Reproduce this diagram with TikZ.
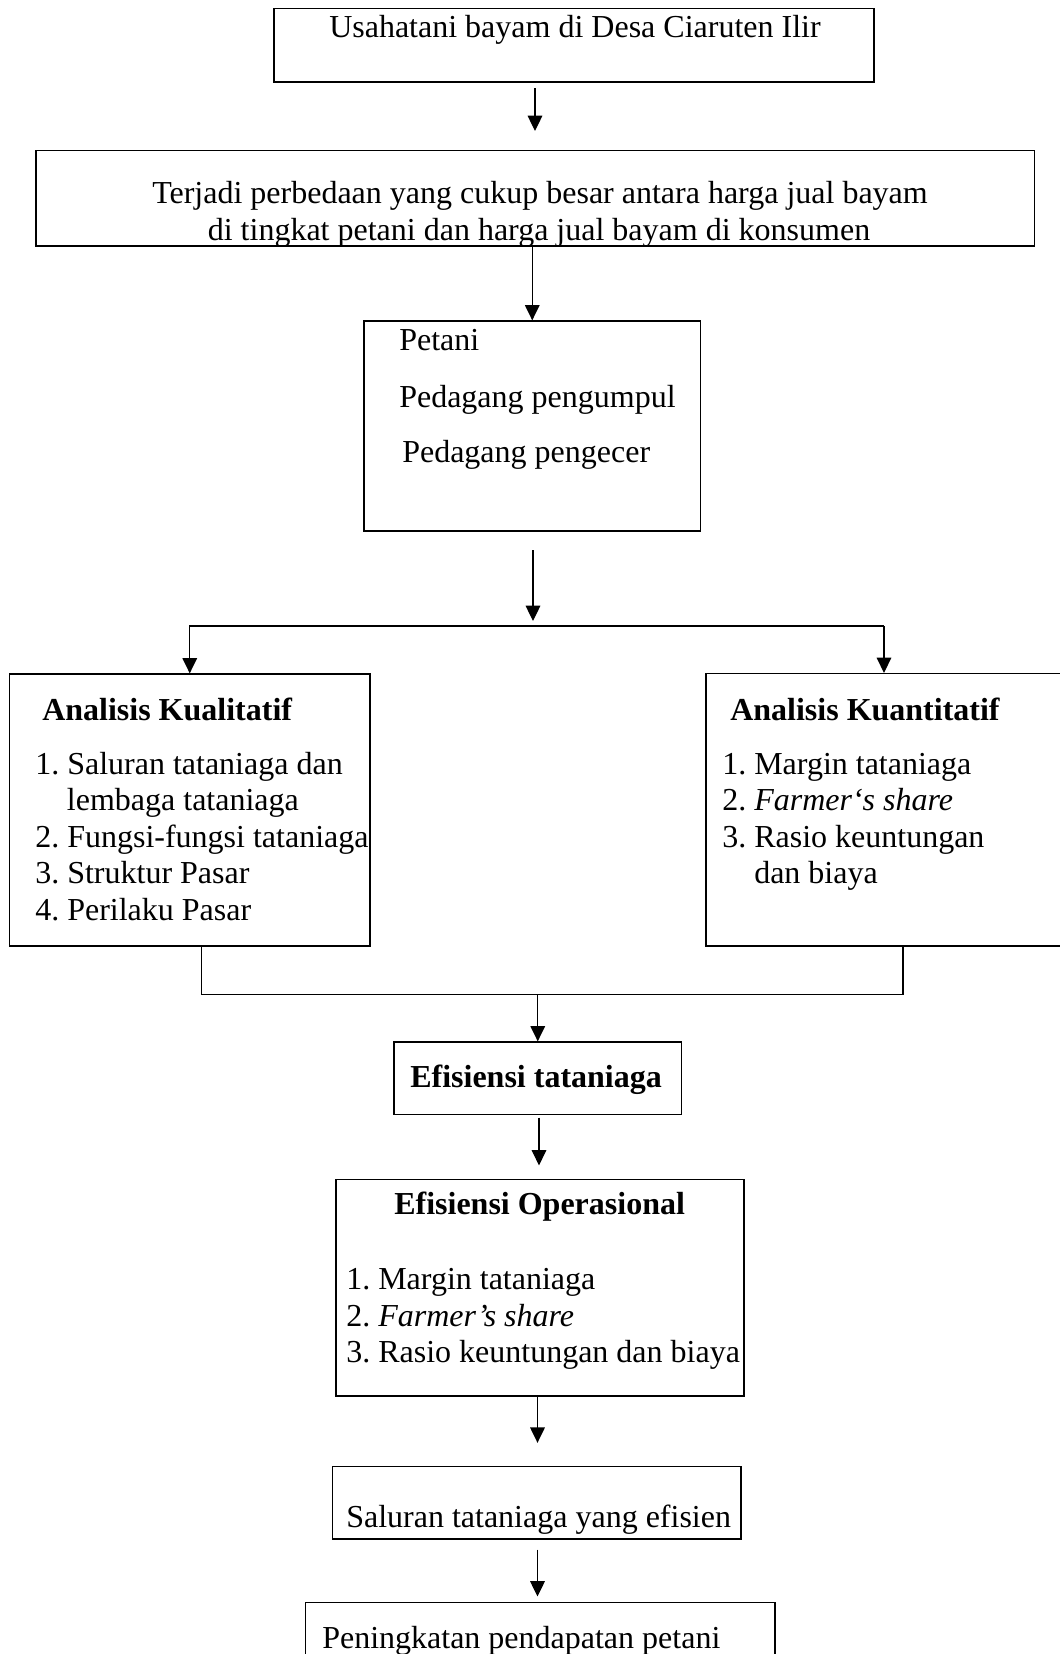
\documentclass[tikz,border=0pt]{standalone}
\usepackage{fontspec}
\setmainfont{Liberation Serif}
\usetikzlibrary{arrows.meta,fit}
\frenchspacing
\begin{document}
\begin{tikzpicture}[x=0.75pt,y=-0.75pt,
  every node/.style={font=\fontsize{24}{27.6}\selectfont},
  box/.style={draw, line width=1pt, inner sep=0pt},
  txt/.style={anchor=base west, inner sep=0pt},
  ctxt/.style={anchor=base, inner sep=0pt},
  arr/.style={-{Triangle[length=11.5pt,width=11pt]}, line width=0.9pt},
  ln/.style={line width=0.9pt}]
\useasboundingbox (0,0) rectangle (1060,1654);
\clip (0,0) rectangle (1060,1654);
\fill[white] (0,0) rectangle (1060,1654);

% boxes
\node[box, fit={(274,8.6) (874,82)}] (b1) {};
\node[box, fit={(36,150.7) (1034.5,246)}] (b2) {};
\node[box, fit={(364,321) (700.5,531)}] (b3) {};
\node[box, fit={(9.5,674) (370,946)}] (kual) {};
\node[box, fit={(706,673.6) (1075,946)}] (kuan) {};
\node[box, fit={(394,1042) (681.5,1114.5)}] (eft) {};
\node[box, fit={(336,1179.5) (744,1396)}] (eo) {};
\node[box, fit={(332.6,1466.8) (741,1539)}] (sal) {};
\node[box, fit={(305.6,1602.5) (775,1680)}] (pen) {};

% texts
\node[txt] (t1) at (329,37.5) {Usahatani bayam di Desa Ciaruten Ilir};
\node[ctxt] (t2a) at (540,203.6) {Terjadi perbedaan yang cukup besar antara harga jual bayam};
\node[ctxt] (t2b) at (539,240) {di tingkat petani dan harga jual bayam di konsumen};
\node[txt] (t3a) at (399,350.5) {Petani};
\node[txt] (t3b) at (399,407) {Pedagang pengumpul};
\node[txt] (t3c) at (402,462.5) {Pedagang pengecer};

\node[txt,font=\fontsize{24}{27.6}\selectfont\bfseries] (kualT) at (42,720) {Analisis Kualitatif};
\node[txt] (kl1) at (35,774) {1. Saluran tataniaga dan};
\node[txt] (kl1b) at (66.7,810.5) {lembaga tataniaga};
\node[txt] (kl2) at (35,847) {2. Fungsi-fungsi tataniaga};
\node[txt] (kl3) at (35,883.5) {3. Struktur Pasar};
\node[txt] (kl4) at (35,920) {4. Perilaku Pasar};

\node[txt,font=\fontsize{24}{27.6}\selectfont\bfseries] (kuanT) at (730,720) {Analisis Kuantitatif};
\node[txt] (kn1) at (722,774) {1. Margin tataniaga};
\node[txt] (kn2) at (722,810.5) {2. \textit{Farmer‘s share}};
\node[txt] (kn3) at (722,847) {3. Rasio keuntungan};
\node[txt] (kn3b) at (754,883.5) {dan biaya};

\node[txt,font=\fontsize{24}{27.6}\selectfont\bfseries] (eftT) at (410,1087) {Efisiensi tataniaga};

\node[txt,font=\fontsize{24}{27.6}\selectfont\bfseries] (eoT) at (394,1214.8) {Efisiensi Operasional};
\node[txt] (eo1) at (346,1289) {1. Margin tataniaga};
\node[txt] (eo2) at (346,1326) {2. \textit{Farmer’s share}};
\node[txt] (eo3) at (346,1362.5) {3. Rasio keuntungan dan biaya};

\node[txt] (salT) at (346,1527.6) {Saluran tataniaga yang efisien};
\node[txt] (penT) at (322,1648) {Peningkatan pendapatan petani};

% connectors
\coordinate (a1s) at (535,88);
\coordinate (a1e) at (535,131);
\draw[arr] (a1s) -- (a1e);

\draw[arr] (b2.south -| b3.north) -- (b3.north);

\coordinate (a3s) at (533,550);
\coordinate (a3e) at (533,621);
\draw[arr] (a3s) -- (a3e);
\coordinate (hl) at (189,626);
\coordinate (hr) at (884,626);
\draw[ln] (hl) -- (hr);
\draw[arr] (kual.north |- hl) -- (kual.north);
\draw[arr] (hr) -- (hr |- kuan.north);

\coordinate (m1) at (201.5,994.6);
\coordinate (m2) at (903,994.6);
\draw[ln] (m1 |- kual.south) -- (m1) -- (m2) -- (m2 |- kuan.south);
\draw[arr] (m1 -| eft.north) -- (eft.north);

\coordinate (a5s) at (539,1117.7);
\coordinate (a5e) at (539,1165.4);
\draw[arr] (a5s) -- (a5e);

\coordinate (a6s) at (537.5,1396);
\coordinate (a6e) at (537.5,1442.8);
\draw[arr] (a6s) -- (a6e);

\coordinate (a7s) at (537.5,1549.5);
\coordinate (a7e) at (537.5,1596.5);
\draw[arr] (a7s) -- (a7e);
\end{tikzpicture}
\end{document}
